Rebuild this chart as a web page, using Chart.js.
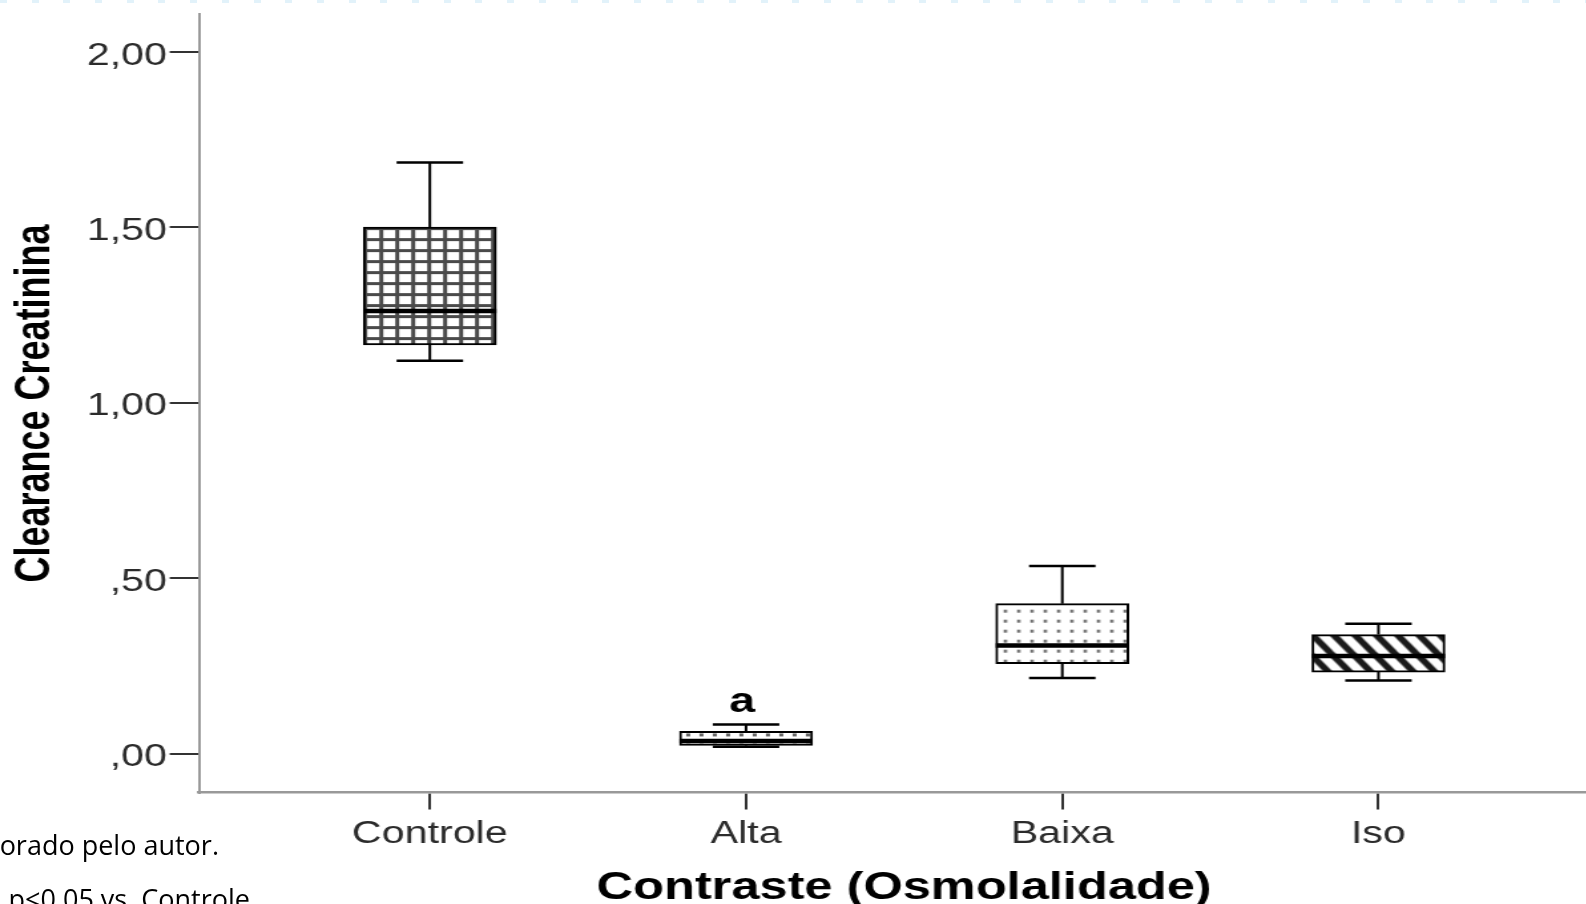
<!DOCTYPE html>
<html>
<head>
<meta charset="utf-8">
<script src="https://cdn.jsdelivr.net/npm/chart.js@4.4.1/dist/chart.umd.min.js"></script>
<style>
  html, body { margin: 0; padding: 0; width: 1586px; height: 904px; overflow: hidden; background: #fff; }
  /* the plot is laid out narrow and widened horizontally, as in the exported figure */
  #stage { position: absolute; left: 0; top: 0; width: 1210px; height: 904px; transform: scaleX(1.33); transform-origin: 0 0; }
  .note { position: absolute; font-family: "Open Sans", sans-serif; font-size: 27px; line-height: 27px; color: #000; white-space: nowrap; }
  #edge { position: absolute; left: 0; top: 0; width: 1586px; height: 3px;
          background: repeating-linear-gradient(90deg, #e2f2fa 0 7px, transparent 7px 31.7px); }
</style>
</head>
<body>
<div id="edge"></div>
<div id="stage"><canvas id="chart"></canvas></div>
<div class="note" style="right:1367px; top:831px;">orado pelo autor.</div>
<div class="note" style="right:1336px; top:885px;">p&lt;0,05 vs. Controle</div>
<script>
// Clearance de creatinina por grupo de contraste (osmolalidade)
const categories  = ['Controle', 'Alta', 'Baixa', 'Iso'];
const whiskerLow  = [1.120, 0.020, 0.216, 0.209];
const quartile1   = [1.165, 0.024, 0.257, 0.233];
const medians     = [1.262, 0.037, 0.309, 0.279];
const quartile3   = [1.501, 0.064, 0.428, 0.340];
const whiskerHigh = [1.685, 0.084, 0.535, 0.371];
const marks       = ['', 'a', '', ''];
const yTickValues = [0, 0.5, 1, 1.5, 2];

const FONT = '"Liberation Sans", Arial, sans-serif';
const canvas = document.getElementById('chart');
const ctx = canvas.getContext('2d');

function makeTile(w, h, paint) {
  const t = document.createElement('canvas');
  t.width = w; t.height = h;
  const g = t.getContext('2d');
  g.fillStyle = '#fff';
  g.fillRect(0, 0, w, h);
  paint(g, w, h);
  return ctx.createPattern(t, 'repeat');
}

// square grid
const gridFill = makeTile(12, 11, (g) => {
  g.fillStyle = '#4a4a4a';
  g.fillRect(0, 0, 3, 11);
  g.fillRect(0, 0, 12, 3);
});
// small dashes
const dashFill = makeTile(10, 7, (g) => {
  g.fillStyle = '#666';
  g.fillRect(5, 2, 3, 3);
});
// dots
const dotFill = makeTile(10, 10, (g) => {
  g.fillStyle = '#707070';
  g.fillRect(6, 6, 2.5, 3);
});
// diagonal stripes
const stripeFill = makeTile(16, 21, (g, w, h) => {
  g.strokeStyle = '#1a1a1a';
  g.lineWidth = 5.5;
  for (let k = -2; k <= 2; k++) {
    g.beginPath();
    g.moveTo(-w + k * w, -h);
    g.lineTo(2 * w + k * w, 2 * h);
    g.stroke();
  }
});
const fills = [gridFill, dashFill, dotFill, stripeFill];

function fmtTick(v) {
  let s = Number(v).toFixed(2).replace('.', ',');
  if (s.startsWith('0')) s = s.slice(1);
  return s;
}

// anchor each fill pattern at its own box corner
const patternAnchor = {
  id: 'patternAnchor',
  beforeDatasetsDraw(chart) {
    const meta = chart.getDatasetMeta(0);
    meta.data.forEach((bar, i) => {
      const left = bar.x - bar.width / 2;
      const top = Math.min(bar.y, bar.base);
      if (fills[i] && fills[i].setTransform) {
        fills[i].setTransform(new DOMMatrix([1, 0, 0, 1, left, top]));
      }
    });
  }
};

// whiskers, medians and group marks
const boxParts = {
  id: 'boxParts',
  afterDatasetsDraw(chart) {
    const c = chart.ctx;
    const xs = chart.scales.x, ys = chart.scales.y;
    const meta = chart.getDatasetMeta(0);
    c.save();
    c.strokeStyle = '#000';
    c.lineCap = 'butt';
    categories.forEach((name, i) => {
      const cx = xs.getPixelForValue(i);
      const half = meta.data[i].width / 2;
      const capHalf = 25;
      const yHi = ys.getPixelForValue(whiskerHigh[i]);
      const yQ3 = ys.getPixelForValue(quartile3[i]);
      const yQ1 = ys.getPixelForValue(quartile1[i]);
      const yLo = ys.getPixelForValue(whiskerLow[i]);
      const yMed = ys.getPixelForValue(medians[i]);

      c.lineWidth = 2;
      c.beginPath();
      c.moveTo(cx, yHi); c.lineTo(cx, yQ3);
      c.moveTo(cx, yQ1); c.lineTo(cx, yLo);
      c.stroke();

      c.lineWidth = 2.5;
      c.beginPath();
      c.moveTo(cx - capHalf, yHi); c.lineTo(cx + capHalf, yHi);
      c.moveTo(cx - capHalf, yLo); c.lineTo(cx + capHalf, yLo);
      c.stroke();

      c.lineWidth = 4.5;
      c.beginPath();
      c.moveTo(cx - half, yMed); c.lineTo(cx + half, yMed);
      c.stroke();

      if (marks[i]) {
        c.fillStyle = '#000';
        c.font = 'bold 35px ' + FONT;
        c.textAlign = 'center';
        c.textBaseline = 'alphabetic';
        c.fillText(marks[i], cx - 3, yHi - 12);
      }
    });
    c.restore();
  }
};

new Chart(canvas, {
  type: 'bar',
  data: {
    datasets: [{
      data: categories.map((name, i) => ({ x: i, y: [quartile1[i], quartile3[i]] })),
      backgroundColor: fills,
      borderColor: '#000',
      borderWidth: 2,
      borderSkipped: false,
      barThickness: 100
    }]
  },
  options: {
    responsive: true,
    maintainAspectRatio: false,
    animation: false,
    events: [],
    layout: { padding: { top: 13, left: 0, right: 0, bottom: 0 } },
    plugins: { legend: { display: false }, tooltip: { enabled: false } },
    scales: {
      x: {
        type: 'linear',
        min: -0.73,
        max: 3.73,
        offset: false,
        afterBuildTicks: (s) => { s.ticks = categories.map((n, i) => ({ value: i })); },
        afterFit: (s) => { s.height = 111.5; },
        ticks: {
          callback: (v) => categories[v],
          autoSkip: false,
          maxRotation: 0,
          font: { family: FONT, size: 31 },
          color: '#2b2b2b',
          padding: 6
        },
        grid: { offset: false, drawOnChartArea: false, drawTicks: true, tickLength: 17, color: '#333', lineWidth: 2 },
        border: { display: true, color: '#999', width: 2.5 },
        title: {
          display: true,
          text: 'Contraste (Osmolalidade)',
          font: { family: FONT, size: 38, weight: 'bold', lineHeight: 0.82 },
          color: '#000',
          padding: 0
        }
      },
      y: {
        min: -0.11,
        max: 2.107,
        afterBuildTicks: (s) => { s.ticks = yTickValues.map((v) => ({ value: v })); },
        afterFit: (s) => { s.width = 149.6; },
        ticks: {
          callback: fmtTick,
          font: { family: FONT, size: 31, lineHeight: 0.8 },
          color: '#2b2b2b',
          padding: 2,
          labelOffset: 4
        },
        grid: { drawOnChartArea: false, drawTicks: true, tickLength: 22, color: '#333', lineWidth: 2 },
        border: { display: true, color: '#999', width: 2 },
        title: {
          display: true,
          text: 'Clearance Creatinina',
          font: { family: FONT, size: 36, weight: 'bold' },
          color: '#000',
          padding: { top: 5, bottom: 0 }
        }
      }
    }
  },
  plugins: [patternAnchor, boxParts]
});
</script>
</body>
</html>
